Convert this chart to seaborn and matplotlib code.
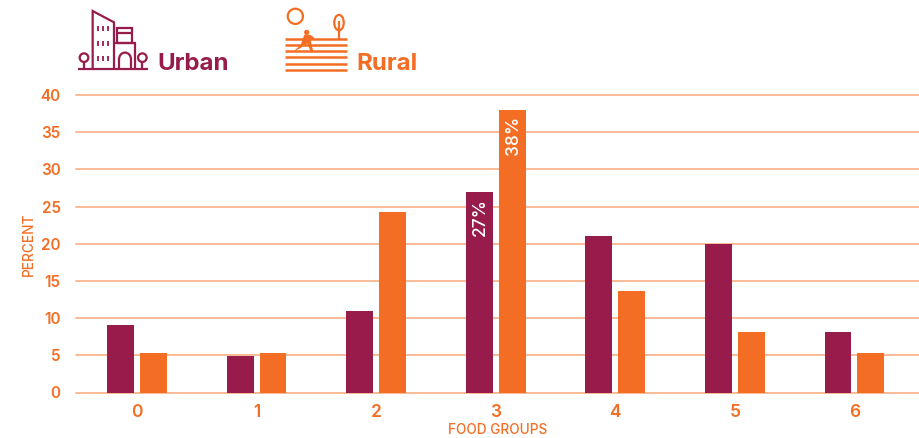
import matplotlib
matplotlib.use("Agg")
import matplotlib.pyplot as plt
from matplotlib.patches import Circle, Ellipse, Polygon, Arc
import pandas as pd
import seaborn as sns

groups = ["0", "1", "2", "3", "4", "5", "6"]
urban = [9.1, 4.9, 10.9, 26.9, 21.0, 20.0, 8.2]
rural = [5.3, 5.3, 24.3, 38.0, 13.7, 8.2, 5.3]
series_names = ["Urban", "Rural"]
annotated = {("Urban", "3"): "27%", ("Rural", "3"): "38%"}
yticks = [0, 5, 10, 15, 20, 25, 30, 35, 40]

PURPLE = "#971B4B"
ORANGE = "#F36E24"
GRID = "#F9AE85"
W, H = 919, 438

sns.set_theme(style="white")
plt.rcParams["font.family"] = ["Inter", "DejaVu Sans"]

df = pd.DataFrame({
    "group": groups * 2,
    "series": [series_names[0]] * len(groups) + [series_names[1]] * len(groups),
    "value": urban + rural,
})

fig = plt.figure(figsize=(W / 100, H / 100), dpi=100, facecolor="white")
ax = fig.add_axes([76 / W, 1 - 392.5 / H, (W - 76) / W, (392.5 - 95) / H])
sns.barplot(data=df, x="group", y="value", hue="series", order=groups,
            hue_order=series_names, palette=[PURPLE, ORANGE], width=0.55, gap=0.18,
            saturation=1, legend=False, ax=ax, errorbar=None, linewidth=0, edgecolor="none")

ax.set_xlim(-0.51, 6.54)
ax.set_ylim(0, 40)
ax.set_yticks(yticks)
ax.yaxis.grid(True, color=GRID, lw=1.2)
for gl in ax.get_ygridlines():
    gl.set_clip_on(False)
ax.xaxis.grid(False)
ax.set_axisbelow(True)
for s in ax.spines.values():
    s.set_visible(False)
ax.tick_params(axis="y", length=0, pad=11, labelsize=11, labelcolor=ORANGE)
ax.tick_params(axis="x", length=0, pad=8, labelsize=12.5, labelcolor=ORANGE)
for lab in ax.get_yticklabels() + ax.get_xticklabels():
    lab.set_fontweight("semibold")
ax.set_xlabel("FOOD GROUPS", color=ORANGE, fontsize=9.8, labelpad=2, fontweight="medium")
ax.set_ylabel("PERCENT", color=ORANGE, fontsize=9.8, labelpad=3.5, fontweight="medium")

for name, cont in zip(series_names, ax.containers):
    for g, bar in zip(groups, cont):
        text = annotated.get((name, g))
        if text:
            ax.annotate(text, (bar.get_x() + bar.get_width() / 2, bar.get_height()),
                        xytext=(1, -4), textcoords="offset points", rotation=90,
                        ha="center", va="top", color="white", fontsize=12.5,
                        fontweight="medium", zorder=5)

# Pictograms in a pixel-space overlay
ov = fig.add_axes([0, 0, 1, 1], facecolor="none", zorder=10)
ov.set_xlim(0, W)
ov.set_ylim(H, 0)
ov.axis("off")

def zx(v):
    return 60 + v / 3

def zy(v):
    return v / 3

def seg(xs, ys, color, lw=1.6):
    ov.plot([zx(v) for v in xs], [zy(v) for v in ys], color=color, lw=lw,
            solid_capstyle="butt", solid_joinstyle="miter")

# urban icon
seg([55, 265], [207, 207], PURPLE)
seg([98, 98, 162, 162], [207, 33, 67, 207], PURPLE)
seg([162, 226, 226], [130, 130, 207], PURPLE)
seg([172, 172, 216, 216, 172], [130, 85, 85, 130, 130], PURPLE)
seg([172, 216], [100, 100], PURPLE)
seg([177, 177], [207, 178], PURPLE)
seg([213, 213], [207, 178], PURPLE)
ov.add_patch(Arc((zx(195), zy(178)), 12, 13.5, theta1=180, theta2=360, color=PURPLE, lw=1.6))
for wy in (85, 130, 175):
    for wx in (115, 130, 145):
        seg([wx, wx], [wy - 7, wy + 7], PURPLE, lw=1.3)
for cx in (72, 247):
    ov.add_patch(Circle((zx(cx), zy(173)), 4.3, fill=False, ec=PURPLE, lw=1.6))
    seg([cx, cx], [186, 207], PURPLE)

# rural icon
for ly in (118, 136, 153, 171, 191, 209):
    seg([675, 860], [ly, ly], ORANGE, lw=1.8)
ov.add_patch(Circle((zx(706), zy(49)), 7.6, fill=False, ec=ORANGE, lw=1.6))
ov.add_patch(Ellipse((zx(837), zy(68)), 9.5, 15.5, fill=False, ec=ORANGE, lw=1.6))
seg([837, 837], [64, 118], ORANGE)
ov.add_patch(Circle((zx(740), zy(97)), 2.6, color=ORANGE, lw=0))
ov.add_patch(Polygon([(zx(x), zy(y)) for x, y in
                      [(733, 104), (750, 104), (764, 114), (752, 122), (760, 155), (752, 155),
                       (742, 130), (720, 145), (700, 155), (722, 135)]],
                     closed=True, color=ORANGE, lw=0))

ov.text(157, 70, "Urban", color=PURPLE, fontsize=17.3, fontweight="bold", ha="left", va="baseline")
ov.text(356, 70, "Rural", color=ORANGE, fontsize=17.3, fontweight="bold", ha="left", va="baseline")

fig.savefig("out.png", dpi=100, facecolor="white")
